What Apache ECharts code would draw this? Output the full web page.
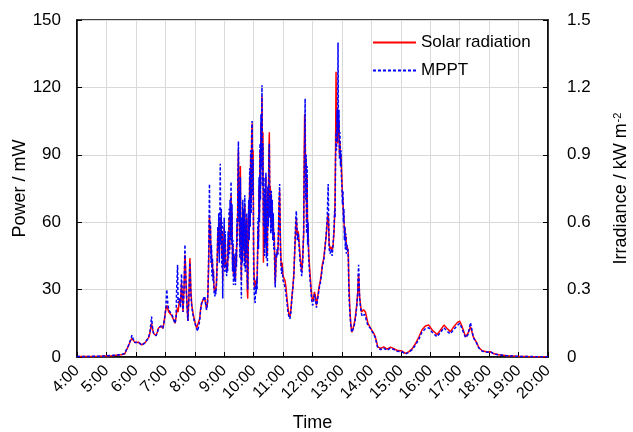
<!DOCTYPE html>
<html>
<head>
<meta charset="utf-8">
<script src="https://cdn.jsdelivr.net/npm/echarts@6/dist/echarts.min.js"></script>
<style>
  html, body { margin: 0; padding: 0; background: #fff; }
  #chart { width: 633px; height: 432px; }
</style>
</head>
<body>
<div id="chart"></div>
<script>
// time of day in minutes since 0:00
const minutes = [
  240, 255, 270, 285, 300, 310, 320, 330, 337, 340, 345, 349, 352, 355, 358, 361, 365, 369, 372, 376,
  379, 383, 386, 389, 392, 394, 396, 399, 401, 404, 406, 409, 411, 413, 415, 417, 419, 421, 423, 425,
  427, 430, 433, 435, 438, 440, 442, 443, 445, 446, 449, 451, 453, 455, 456, 458, 460, 461, 462, 464,
  466, 468, 470, 471, 472, 474, 477, 479, 482, 484, 486, 488, 490, 492, 494, 496, 498, 500, 502, 504,
  506, 507, 508, 509, 510, 511, 512, 513, 514, 515, 516, 517, 518, 519, 520, 521, 522, 523, 524, 525,
  526, 527, 528, 529, 530, 531, 532, 533, 534, 535, 536, 537, 538, 539, 540, 541, 542, 543, 544, 545,
  546, 547, 548, 549, 550, 551, 552, 553, 554, 555, 556, 557, 558, 559, 560, 561, 562, 563, 564, 565,
  566, 567, 568, 569, 570, 571, 572, 573, 574, 575, 576, 577, 578, 579, 580, 581, 582, 583, 584, 585,
  586, 587, 588, 589, 590, 591, 592, 593, 594, 595, 596, 597, 598, 599, 600, 601, 602, 603, 604, 605,
  606, 607, 608, 609, 610, 611, 612, 613, 614, 615, 616, 617, 618, 619, 620, 621, 622, 623, 624, 625,
  626, 627, 628, 629, 630, 631, 632, 633, 634, 635, 636, 637, 638, 639, 640, 641, 642, 643, 644, 645,
  646, 647, 648, 649, 650, 651, 652, 653, 654, 655, 656, 657, 658, 660, 662, 664, 666, 668, 670, 672,
  674, 676, 678, 680, 682, 684, 686, 687, 688, 689, 691, 693, 695, 697, 698, 700, 702, 703, 704, 705,
  706, 707, 708, 709, 710, 711, 712, 714, 716, 718, 720, 722, 724, 726, 728, 730, 732, 734, 736, 738,
  740, 743, 746, 748, 750, 752, 753, 754, 756, 758, 760, 762, 764, 765, 766, 767, 768, 769, 770, 771,
  772, 773, 774, 775, 776, 777, 778, 779, 780, 781, 782, 783, 784, 785, 786, 787, 788, 789, 790, 792,
  793, 794, 796, 798, 800, 802, 804, 806, 808, 810, 812, 813, 814, 815, 816, 818, 820, 822, 824, 826,
  828, 830, 833, 838, 845, 848, 853, 859, 865, 872, 879, 886, 892, 902, 909, 916, 923, 930, 937, 943,
  950, 957, 964, 974, 981, 988, 994, 1001, 1008, 1015, 1020, 1025, 1032, 1037, 1042, 1048, 1054, 1059, 1066, 1076,
  1083, 1090, 1100, 1116, 1135, 1160, 1200
];

// MPPT output power, mW
const mppt = [
  0.2, 0.2, 0.3, 0.3, 0.5, 0.7, 0.8, 1.1, 1.5, 1.8, 5.2, 7.6, 9.7, 7.7, 6.4, 6.0, 6.7, 6.0, 5.2, 5.8,
  6.4, 7.2, 8.7, 11.5, 18, 13, 10.6, 10, 9.5, 11, 12.8, 13.5, 13.8, 13.2, 12.8, 15, 18, 22, 30, 24,
  21, 20, 19, 18, 16, 15, 18, 30, 41, 24, 26, 22, 37, 26, 20, 28, 50, 40, 34, 24,
  16, 26, 42, 36, 28, 22, 18, 16, 14, 12.6, 11.5, 12, 16, 21, 24, 25, 26, 27, 24, 21,
  24, 30, 40, 55, 77, 50, 60, 42, 50, 36, 44, 34, 38, 30, 28, 27, 30, 28, 31, 36,
  44, 58, 48, 64, 42, 58, 86, 50, 66, 40, 60, 26, 52, 40, 62, 38, 56, 42, 40, 36,
  42, 38, 56, 44, 66, 46, 70, 52, 78, 50, 68, 38, 52, 32, 46, 34, 40, 32, 48, 40,
  62, 50, 80, 96, 60, 74, 44, 80, 50, 26, 62, 42, 70, 48, 66, 40, 72, 38, 60, 46,
  64, 34, 30, 48, 70, 52, 84, 58, 92, 64, 100, 105, 72, 88, 40, 30, 26, 24, 32, 28,
  35, 30, 45, 62, 48, 80, 60, 95, 70, 108, 84, 121, 76, 95, 58, 80, 45, 75, 50, 82,
  44, 70, 40, 76, 58, 88, 95, 62, 72, 55, 74, 56, 70, 52, 64, 48, 56, 40, 31, 38,
  46, 44, 48, 45, 50, 60, 70, 77, 58, 45, 40, 37, 40, 34, 33, 31, 28, 24, 20, 18,
  17, 20, 26, 31, 36, 50, 62, 65, 60, 52, 55, 48, 42, 38, 36, 42, 56, 80, 95, 115,
  70, 90, 55, 85, 50, 60, 45, 37, 32, 26, 23, 24, 28, 26, 22, 25, 28, 31, 33, 36,
  40, 43, 50, 55, 62, 77, 60, 48, 46, 48, 45, 50, 58, 65, 62, 88, 100, 92, 110, 96,
  140, 100, 110, 88, 100, 85, 92, 80, 76, 68, 74, 60, 66, 52, 58, 48, 55, 46, 50, 48,
  44, 30, 20, 14, 11, 11, 13, 15, 18, 22, 28, 36, 41, 34, 26, 22, 19, 18, 18, 19,
  18, 16, 14, 12.8, 10, 8.6, 4, 3.3, 4, 3, 4, 3.3, 2.6, 2.4, 1.3, 2, 3.3, 5.3, 8, 11,
  12.6, 13, 11, 9, 11, 13, 11.5, 10.3, 12.3, 14, 15, 12.5, 8.6, 10, 15.3, 8.6, 6.4, 4, 2.6, 2.1,
  2.3, 1.3, 0.9, 0.6, 0.3, 0.2, 0.1
];

// solar radiation, kW m^-2
const solar = [
  0.002, 0.002, 0.002, 0.003, 0.005, 0.006, 0.008, 0.010, 0.013, 0.018, 0.050, 0.072, 0.083, 0.076, 0.065, 0.060, 0.066, 0.058, 0.054, 0.060,
  0.064, 0.072, 0.086, 0.110, 0.150, 0.125, 0.106, 0.098, 0.095, 0.112, 0.128, 0.135, 0.138, 0.132, 0.128, 0.150, 0.180, 0.210, 0.230, 0.215,
  0.200, 0.195, 0.185, 0.180, 0.160, 0.150, 0.180, 0.200, 0.220, 0.200, 0.260, 0.240, 0.330, 0.250, 0.200, 0.300, 0.455, 0.420, 0.340, 0.240,
  0.160, 0.260, 0.440, 0.390, 0.300, 0.230, 0.190, 0.170, 0.140, 0.130, 0.125, 0.130, 0.170, 0.215, 0.240, 0.250, 0.255, 0.265, 0.240, 0.215,
  0.240, 0.300, 0.38, 0.50, 0.63, 0.55, 0.58, 0.46, 0.48, 0.40, 0.43, 0.36, 0.39, 0.32, 0.30, 0.29, 0.31, 0.30, 0.32, 0.38,
  0.45, 0.56, 0.50, 0.60, 0.46, 0.57, 0.62, 0.52, 0.62, 0.44, 0.56, 0.34, 0.50, 0.42, 0.58, 0.41, 0.53, 0.44, 0.41, 0.38,
  0.42, 0.40, 0.52, 0.46, 0.62, 0.48, 0.66, 0.54, 0.72, 0.54, 0.64, 0.42, 0.50, 0.36, 0.45, 0.37, 0.40, 0.35, 0.46, 0.42,
  0.58, 0.54, 0.78, 0.92, 0.66, 0.72, 0.50, 0.85, 0.55, 0.34, 0.60, 0.46, 0.66, 0.52, 0.64, 0.44, 0.68, 0.42, 0.58, 0.48,
  0.62, 0.30, 0.26, 0.46, 0.68, 0.56, 0.80, 0.62, 0.90, 0.70, 0.98, 1.04, 0.80, 0.92, 0.48, 0.36, 0.31, 0.31, 0.34, 0.32,
  0.34, 0.33, 0.44, 0.58, 0.52, 0.76, 0.64, 0.92, 0.76, 1.04, 0.92, 1.16, 0.86, 1.00, 0.42, 0.70, 0.50, 0.72, 0.55, 0.80,
  0.48, 0.66, 0.46, 0.74, 0.62, 0.90, 1.00, 0.70, 0.76, 0.60, 0.72, 0.58, 0.66, 0.56, 0.62, 0.52, 0.55, 0.42, 0.33, 0.38,
  0.45, 0.46, 0.47, 0.46, 0.50, 0.58, 0.68, 0.74, 0.60, 0.48, 0.42, 0.40, 0.42, 0.36, 0.35, 0.34, 0.31, 0.26, 0.22, 0.19,
  0.18, 0.21, 0.27, 0.31, 0.37, 0.48, 0.58, 0.62, 0.58, 0.54, 0.56, 0.50, 0.44, 0.40, 0.38, 0.44, 0.55, 0.90, 1.08, 1.00,
  0.80, 0.88, 0.60, 0.80, 0.55, 0.58, 0.48, 0.40, 0.34, 0.28, 0.25, 0.26, 0.29, 0.27, 0.23, 0.26, 0.29, 0.32, 0.34, 0.37,
  0.41, 0.44, 0.50, 0.54, 0.60, 0.64, 0.58, 0.50, 0.48, 0.49, 0.47, 0.50, 0.56, 0.62, 0.70, 0.92, 1.27, 1.05, 1.00, 0.95,
  1.10, 0.98, 1.05, 0.90, 0.96, 0.88, 0.90, 0.84, 0.78, 0.72, 0.70, 0.64, 0.62, 0.56, 0.58, 0.52, 0.54, 0.50, 0.50, 0.48,
  0.46, 0.34, 0.22, 0.15, 0.11, 0.12, 0.14, 0.16, 0.19, 0.23, 0.28, 0.33, 0.37, 0.32, 0.27, 0.23, 0.20, 0.20, 0.21, 0.21,
  0.20, 0.18, 0.15, 0.13, 0.105, 0.09, 0.045, 0.038, 0.045, 0.035, 0.044, 0.037, 0.030, 0.027, 0.016, 0.023, 0.036, 0.060, 0.090, 0.120,
  0.138, 0.142, 0.120, 0.100, 0.120, 0.142, 0.128, 0.113, 0.135, 0.153, 0.160, 0.135, 0.090, 0.106, 0.135, 0.088, 0.066, 0.042, 0.028, 0.022,
  0.023, 0.014, 0.010, 0.006, 0.003, 0.002, 0.001
];

const powerTicks = [0, 30, 60, 90, 120, 150];
const irradianceTicks = [0, 0.3, 0.6, 0.9, 1.2, 1.5];

const font = 'Liberation Sans, Arial, sans-serif';
const chart = echarts.init(document.getElementById('chart'));

const mpptData = minutes.map((m, i) => [m, mppt[i]]);
const solarData = minutes.map((m, i) => [m, solar[i]]);

chart.setOption({
  animation: false,
  textStyle: { fontFamily: font, color: '#000' },
  grid: {
    left: 77, right: 85, top: 20, bottom: 75,
    outerBoundsMode: 'none',
    containLabel: false,
    show: true, borderColor: '#000', borderWidth: 1.5
  },
  legend: {
    orient: 'vertical',
    left: 367,
    top: 29,
    itemWidth: 43,
    itemHeight: 14,
    itemGap: 11,
    itemStyle: { opacity: 0 },
    textStyle: { fontFamily: font, fontSize: 17, color: '#000' },
    data: ['Solar radiation', 'MPPT']
  },
  xAxis: {
    type: 'value',
    min: 240,
    max: 1200,
    interval: 60,
    name: 'Time',
    nameLocation: 'middle',
    nameGap: 57,
    nameTextStyle: { fontSize: 18, color: '#000', fontFamily: font },
    axisLine: { lineStyle: { color: '#000', width: 1.5 } },
    axisTick: { inside: true, length: 5, lineStyle: { color: '#000', width: 1 } },
    splitLine: { show: true, lineStyle: { color: '#d9d9d9', width: 1 } },
    axisLabel: {
      rotate: 45,
      fontSize: 16,
      color: '#000',
      fontFamily: font,
      margin: 11,
      formatter: v => Math.round(v / 60) + ':00'
    }
  },
  yAxis: [
    {
      type: 'value',
      min: powerTicks[0],
      max: powerTicks[powerTicks.length - 1],
      interval: powerTicks[1] - powerTicks[0],
      name: 'Power / mW',
      nameLocation: 'middle',
      nameGap: 48,
      nameMoveOverlap: false,
      nameRotate: 90,
      nameTextStyle: { fontSize: 18, color: '#000', fontFamily: font },
      axisLine: { show: true, lineStyle: { color: '#000', width: 1.5 } },
      axisTick: { show: true, inside: true, length: 5, lineStyle: { color: '#000' } },
      splitLine: { show: true, lineStyle: { color: '#d9d9d9', width: 1 } },
      axisLabel: { fontSize: 17, color: '#000', fontFamily: font, margin: 16 }
    },
    {
      type: 'value',
      position: 'right',
      min: irradianceTicks[0],
      max: irradianceTicks[irradianceTicks.length - 1],
      interval: 0.3,
      name: 'Irradiance / kW m{sup|-2}',
      nameLocation: 'middle',
      nameGap: 64,
      nameRotate: 90,
      nameTextStyle: {
        fontSize: 18, color: '#000', fontFamily: font,
        rich: {
          sup: { fontSize: 11, fontFamily: font, color: '#000', verticalAlign: 'top', padding: [0, 0, 8, 1] }
        }
      },
      axisLine: { show: true, lineStyle: { color: '#000', width: 1.5 } },
      axisTick: { show: true, inside: true, length: 5, lineStyle: { color: '#000' } },
      splitLine: { show: false },
      axisLabel: {
        fontSize: 17, color: '#000', fontFamily: font, margin: 19,
        formatter: v => (v === 0 ? '0' : v.toFixed(1))
      }
    }
  ],
  series: [
    {
      name: 'Solar radiation',
      type: 'line',
      yAxisIndex: 1,
      data: solarData,
      symbol: 'none',
      color: '#ff0000',
      lineStyle: { color: '#ff0000', width: 1.5 }
    },
    {
      name: 'MPPT',
      type: 'line',
      yAxisIndex: 0,
      data: mpptData,
      symbol: 'none',
      color: '#0000ff',
      lineStyle: { color: '#0000ff', width: 1.5, type: [3, 2] }
    }
  ]
});
</script>
</body>
</html>
